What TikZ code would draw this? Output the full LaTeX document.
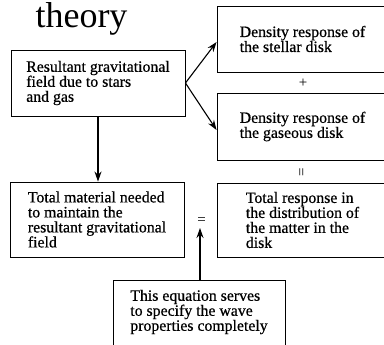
\documentclass[tikz,border=0pt]{standalone}
\usepackage{fontspec}
\setmainfont{Liberation Serif}
\newfontfamily\boxfont{Liberation Serif}[FakeBold=0.6]
\usetikzlibrary{arrows.meta}
\begin{document}
\begin{tikzpicture}[x=1pt,y=-1pt,
  box/.style={draw, line width=0.9pt, align=left, inner sep=0pt, font=\boxfont\fontsize{15.8}{15}\selectfont},
  txt/.style={align=left, inner sep=0pt, font=\boxfont\fontsize{15.8}{15}\selectfont},
  arr/.style={line width=1.1pt, -{Stealth[length=10pt,width=7pt]}},
  sym/.style={inner sep=0pt, font=\fontsize{15}{15}\selectfont}]
\useasboundingbox (0,0) rectangle (384,345);
\node[anchor=base, inner sep=0pt, font=\fontsize{36}{36}\selectfont] (title) at (81.5,28) {theory};
\node[box, minimum width=174pt, minimum height=66pt] (A) at (98,83)
  {Resultant gravitational\\field due to stars\\and gas};
\node[box, minimum width=171pt, minimum height=66pt] (B) at (302.5,39)
  {Density response of\\the stellar disk};
\node[box, minimum width=171pt, minimum height=67pt] (C) at (302.5,126.5)
  {Density response of\\the gaseous disk};
\node[box, minimum width=174pt, minimum height=75pt] (D) at (97,219.5)
  {Total material needed\\to maintain the\\resultant gravitational\\field};
\node[box, minimum width=171pt, minimum height=74pt] (E) at (302.5,220)
  {Total response in\\the distribution of\\the matter in the\\disk};
\node[draw, line width=0.9pt, minimum width=172pt, minimum height=80pt, inner sep=0pt] (F) at (199,320) {};
\node[txt] (Ft) at (199,312)
  {This equation serves\\to specify the wave\\properties completely};
\node[sym] (plus) at (303,83) {+};
\node[sym, rotate=90] (eqv) at (303,172) {=};
\node[sym] (eq) at (201.5,221) {=};
\coordinate (eqtip) at (200,228);
\draw[arr] (A.south) -- (A.south |- D.north);
\draw[arr] (A.east) -- ([yshift=-3pt]B.west);
\draw[arr] (A.east) -- ([yshift=-3.5pt]C.west);
\draw[arr] (F.north -| eqtip) -- (eqtip);
\end{tikzpicture}
\end{document}
